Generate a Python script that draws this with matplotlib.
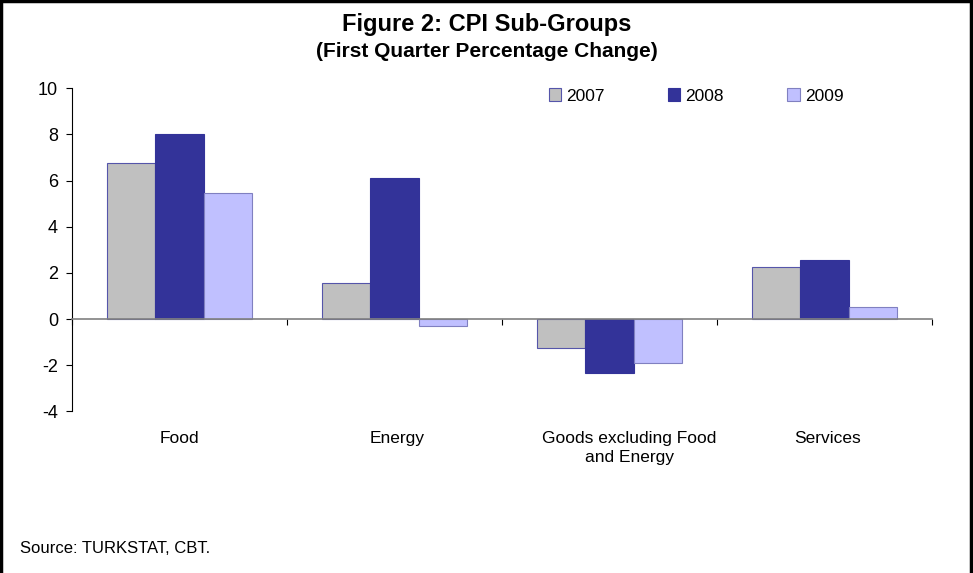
import numpy as np
import matplotlib.pyplot as plt
from matplotlib.patches import Rectangle

plt.rcParams['font.family'] = ['Liberation Sans', 'DejaVu Sans']
plt.rcParams['axes.unicode_minus'] = False

categories = ['Food', 'Energy', 'Goods excluding Food\nand Energy', 'Services']
years = ['2007', '2008', '2009']
values_2007 = [6.77, 1.57, -1.24, 2.26]
values_2008 = [8.04, 6.10, -2.35, 2.55]
values_2009 = [5.47, -0.29, -1.90, 0.51]

# horizontal nudges of the category labels (Excel wraps the long one off-centre)
label_shift = [0.0, 0.01, 0.093, 0.012]

colors = ['#C0C0C0', '#333399', '#C0C0FF']
edges = ['#5555AA', '#333399', '#8080C0']

fig = plt.figure(figsize=(9.73, 5.73), dpi=100)
ax = fig.add_axes([0.074, 0.2822, 0.8839, 0.5637])

x = np.arange(len(categories))
w = 0.224
series = [values_2007, values_2008, values_2009]
for i, vals in enumerate(series):
    ax.bar(x + (i - 1) * w, vals, w, color=colors[i], edgecolor=edges[i],
           linewidth=0.8, label=years[i], zorder=2)

ax.set_xlim(-0.5, 3.5)
ax.set_ylim(-4, 10)
ax.set_yticks(range(-4, 11, 2))
ax.tick_params(axis='y', direction='out', length=4, width=0.8, labelsize=13, pad=6)

for s in ['top', 'right']:
    ax.spines[s].set_visible(False)
ax.spines['left'].set_linewidth(0.8)
ax.spines['bottom'].set_position(('data', 0))
ax.spines['bottom'].set_color('#808080')
ax.spines['bottom'].set_linewidth(1.2)
ax.spines['bottom'].set_zorder(3)
ax.set_xticks(np.arange(-0.5, 3.6, 1.0))
ax.set_xticklabels([])
ax.tick_params(axis='x', direction='out', length=4, width=0.8, color='black')

for i, c in enumerate(categories):
    ax.text(i + label_shift[i], -0.062, c, transform=ax.get_xaxis_transform(),
            ha='center', va='top', fontsize=12.5, linespacing=1.3)

fig.text(0.5, 0.957, 'Figure 2: CPI Sub-Groups', ha='center', va='center',
         fontsize=17, fontweight='bold')
fig.text(0.5, 0.910, '(First Quarter Percentage Change)', ha='center',
         va='center', fontsize=15, fontweight='bold')
fig.text(0.021, 0.042, 'Source: TURKSTAT, CBT.', ha='left', va='center',
         fontsize=12)

fig.legend(loc='center left', bbox_to_anchor=(549 / 973, 1 - 96 / 573),
           ncol=3, frameon=False, fontsize=12.5, handlelength=0.7,
           handleheight=0.7, handletextpad=0.3, columnspacing=3.65,
           borderpad=0, borderaxespad=0)

fig.patches.append(Rectangle((0.0015, -0.05), 0.996, 1.048,
                             transform=fig.transFigure, fill=False,
                             edgecolor='black', linewidth=2.5))

fig.savefig('out.png', dpi=100)
